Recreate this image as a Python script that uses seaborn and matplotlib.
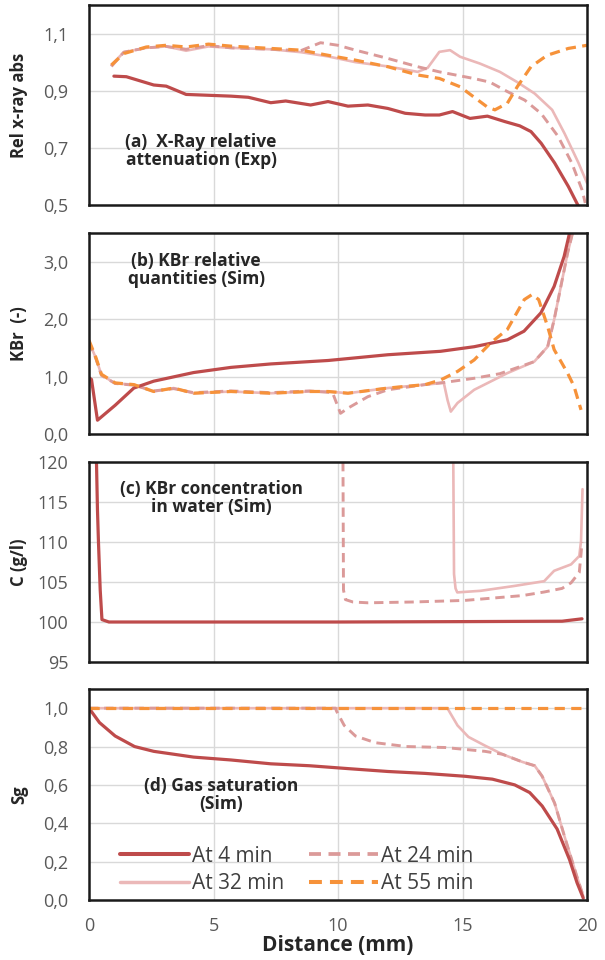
import numpy as np
import pandas as pd
import matplotlib
matplotlib.use("Agg")
import matplotlib.pyplot as plt
from matplotlib.lines import Line2D
import seaborn as sns

# ---------------- data ----------------
series_names = ["At 4 min", "At 24 min", "At 32 min", "At 55 min"]

# (a) X-ray relative attenuation (Exp)
a_x_4 = [1.0, 1.5, 2.6, 3.1, 3.9, 4.5, 5.7, 6.4, 7.3, 7.9, 8.9, 9.6, 10.4, 11.2, 12.0, 12.7, 13.5,
         14.07, 14.6, 15.3, 16.0, 16.7, 17.3, 17.75, 18.16, 18.7, 19.25, 19.66, 19.8]
a_y_4 = [0.951, 0.949, 0.920, 0.916, 0.887, 0.885, 0.881, 0.877, 0.858, 0.864, 0.850, 0.862, 0.846, 0.850,
         0.838, 0.821, 0.815, 0.815, 0.827, 0.803, 0.811, 0.792, 0.777, 0.757, 0.716, 0.647, 0.565, 0.495, 0.47]
a_x_24 = [0.9, 1.4, 2.3, 3.1, 3.9, 4.8, 5.7, 7.3, 8.5, 9.3, 10.0, 10.7, 12.0, 13.2, 14.07, 15.44, 16.1,
          16.8, 17.5, 18.16, 18.84, 19.39, 19.8, 19.93]
a_y_24 = [0.985, 1.035, 1.050, 1.055, 1.045, 1.058, 1.050, 1.045, 1.040, 1.068, 1.059, 1.042, 1.013, 0.984,
          0.966, 0.943, 0.930, 0.897, 0.867, 0.820, 0.740, 0.647, 0.553, 0.507]
a_x_32 = [0.9, 1.4, 2.3, 3.1, 3.9, 4.8, 5.7, 7.3, 8.5, 9.6, 10.7, 12.0, 13.2, 13.6, 14.07, 14.5, 14.9,
          15.7, 16.5, 17.2, 17.9, 18.6, 19.1, 19.66, 20.0]
a_y_32 = [0.990, 1.035, 1.050, 1.055, 1.040, 1.055, 1.050, 1.045, 1.035, 1.020, 1.000, 0.985, 0.966, 0.980,
          1.036, 1.042, 1.019, 0.995, 0.966, 0.930, 0.890, 0.833, 0.750, 0.647, 0.577]
a_x_55 = [0.9, 1.4, 2.3, 3.1, 3.9, 4.8, 5.7, 7.3, 8.5, 9.6, 10.7, 12.0, 13.2, 14.07, 14.9, 15.44, 15.98,
          16.3, 16.8, 17.2, 17.75, 18.4, 19.25, 20.0]
a_y_55 = [0.990, 1.030, 1.053, 1.059, 1.053, 1.063, 1.056, 1.048, 1.042, 1.024, 1.007, 0.984, 0.955, 0.943,
          0.914, 0.879, 0.844, 0.833, 0.856, 0.914, 0.984, 1.024, 1.048, 1.059]

# (b) KBr relative quantities (Sim)
b_x_4 = [0.0, 0.1, 0.34, 1.05, 1.8, 2.6, 4.2, 5.7, 7.3, 9.6, 12.0, 14.12, 15.47, 16.8, 17.47, 18.15, 18.68, 19.08, 19.3]
b_y_4 = [0.98, 0.95, 0.24, 0.50, 0.80, 0.92, 1.07, 1.16, 1.22, 1.28, 1.38, 1.44, 1.52, 1.64, 1.79, 2.11, 2.57, 3.09, 3.50]
b_x_24 = [0.0, 0.27, 0.5, 1.05, 1.8, 2.6, 3.4, 4.2, 5.7, 7.3, 8.85, 9.78, 10.1, 10.4, 11.2, 12.0, 13.5, 14.3,
          15.47, 16.5, 17.88, 18.42, 18.68, 18.95, 19.22, 19.42]
b_y_24 = [1.60, 1.32, 1.02, 0.88, 0.85, 0.75, 0.79, 0.72, 0.75, 0.72, 0.75, 0.72, 0.36, 0.45, 0.65, 0.77, 0.86, 0.90,
          0.97, 1.05, 1.26, 1.52, 1.99, 2.57, 3.15, 3.50]
b_x_32 = [0.0, 0.27, 0.5, 1.05, 1.8, 2.6, 3.4, 4.2, 5.7, 7.3, 8.85, 9.6, 10.4, 12.0, 13.5, 14.25, 14.4, 14.53,
          14.8, 15.47, 16.8, 17.88, 18.42, 18.68, 18.95, 19.22, 19.42]
b_y_32 = [1.60, 1.33, 1.03, 0.88, 0.86, 0.74, 0.80, 0.71, 0.74, 0.71, 0.74, 0.74, 0.71, 0.80, 0.86, 0.89, 0.59, 0.39,
          0.54, 0.77, 1.06, 1.26, 1.52, 1.99, 2.57, 3.15, 3.50]
b_x_55 = [0.0, 0.27, 0.5, 1.05, 1.8, 2.6, 3.4, 4.2, 5.7, 7.3, 8.85, 9.6, 10.4, 12.0, 13.5, 14.12, 14.8, 15.47,
          16.14, 16.8, 17.48, 17.8, 18.06, 18.42, 18.68, 19.22, 19.48, 19.76]
b_y_55 = [1.63, 1.34, 1.04, 0.89, 0.86, 0.74, 0.80, 0.71, 0.74, 0.71, 0.74, 0.74, 0.71, 0.80, 0.86, 0.94, 1.09, 1.29,
          1.59, 1.82, 2.34, 2.43, 2.34, 1.87, 1.47, 1.06, 0.83, 0.42]

# (c) KBr concentration in water (Sim)
c_x_4 = [0.30, 0.34, 0.38, 0.45, 0.52, 0.8, 5.0, 10.0, 15.0, 19.0, 19.8]
c_y_4 = [120.0, 114.0, 110.0, 104.0, 100.3, 100.0, 100.0, 100.0, 100.05, 100.1, 100.4]
c_x_24 = [10.2, 10.22, 10.3, 10.6, 11.2, 13.0, 15.1, 17.4, 18.28, 19.0, 19.36, 19.69, 19.76, 19.8]
c_y_24 = [120.0, 104.0, 102.8, 102.5, 102.4, 102.5, 102.7, 103.3, 103.75, 104.2, 104.9, 106.2, 108.5, 110.0]
c_x_32 = [14.63, 14.66, 14.72, 14.79, 15.73, 17.07, 18.28, 18.68, 19.36, 19.69, 19.76, 19.82]
c_y_32 = [120.0, 106.0, 104.2, 103.7, 103.9, 104.5, 105.1, 106.4, 107.2, 108.25, 110.1, 116.6]

# (d) Gas saturation (Sim)
d_x_4 = [0.0, 0.42, 1.05, 1.83, 2.6, 4.2, 5.7, 7.3, 8.85, 10.4, 12.0, 13.5, 15.1, 16.2, 17.1, 17.7, 18.2, 18.8,
         19.3, 19.6, 19.85]
d_y_4 = [1.0, 0.925, 0.855, 0.80, 0.775, 0.745, 0.73, 0.71, 0.70, 0.685, 0.67, 0.66, 0.645, 0.63, 0.60, 0.56,
         0.49, 0.37, 0.21, 0.09, 0.01]
d_x_24 = [0.0, 9.9, 9.94, 10.25, 10.7, 11.5, 12.75, 14.3, 15.1, 15.9, 16.6, 17.4, 17.9, 18.2, 18.7, 19.1, 19.6, 19.85]
d_y_24 = [1.0, 1.0, 0.985, 0.91, 0.855, 0.82, 0.80, 0.795, 0.785, 0.775, 0.76, 0.72, 0.70, 0.645, 0.505, 0.33,
          0.12, 0.02]
d_x_32 = [0.0, 14.4, 14.46, 14.8, 15.24, 15.9, 16.6, 17.4, 17.9, 18.2, 18.7, 19.1, 19.6, 19.85]
d_y_32 = [1.0, 1.0, 0.985, 0.91, 0.85, 0.805, 0.76, 0.72, 0.70, 0.645, 0.505, 0.33, 0.12, 0.02]
d_x_55 = [0.0, 20.0]
d_y_55 = [1.0, 1.0]

x_ticks = [0, 5, 10, 15, 20]
a_ticks = [0.5, 0.7, 0.9, 1.1]
a_ticklabels = ["0,5", "0,7", "0,9", "1,1"]
b_ticks = [0.0, 1.0, 2.0, 3.0]
b_ticklabels = ["0,0", "1,0", "2,0", "3,0"]
c_ticks = [95, 100, 105, 110, 115, 120]
c_ticklabels = ["95", "100", "105", "110", "115", "120"]
d_ticks = [0.0, 0.2, 0.4, 0.6, 0.8, 1.0]
d_ticklabels = ["0,0", "0,2", "0,4", "0,6", "0,8", "1,0"]

panel_titles = ["(a)  X-Ray relative\nattenuation (Exp)",
                "(b) KBr relative\nquantities (Sim)",
                "(c) KBr concentration\nin water (Sim)",
                "(d) Gas saturation\n(Sim)"]
y_labels = ["Rel x-ray abs", "KBr  (-)", "C (g/l)", "Sg"]
x_label = "Distance (mm)"

# ---------------- style ----------------
sns.set_theme(style="white")
plt.rcParams["font.family"] = ["Open Sans", "DejaVu Sans"]

colors = {"At 4 min": "#BE4B4B", "At 24 min": "#DB9A99", "At 32 min": "#EBB8B8", "At 55 min": "#F6923A"}
styles = {"At 4 min": "-", "At 24 min": (0, (3.2, 2.0)), "At 32 min": "-", "At 55 min": (0, (3.2, 2.0))}
widths = {"At 4 min": 2.3, "At 24 min": 2.1, "At 32 min": 1.9, "At 55 min": 2.3}
draw_order = ["At 32 min", "At 24 min", "At 4 min", "At 55 min"]

panels = [
    {"At 4 min": (a_x_4, a_y_4), "At 24 min": (a_x_24, a_y_24), "At 32 min": (a_x_32, a_y_32), "At 55 min": (a_x_55, a_y_55)},
    {"At 4 min": (b_x_4, b_y_4), "At 24 min": (b_x_24, b_y_24), "At 32 min": (b_x_32, b_y_32), "At 55 min": (b_x_55, b_y_55)},
    {"At 4 min": (c_x_4, c_y_4), "At 24 min": (c_x_24, c_y_24), "At 32 min": (c_x_32, c_y_32)},
    {"At 4 min": (d_x_4, d_y_4), "At 24 min": (d_x_24, d_y_24), "At 32 min": (d_x_32, d_y_32), "At 55 min": (d_x_55, d_y_55)},
]
ylims = [(0.5, 1.2), (0.0, 3.5), (95, 120), (0.0, 1.1)]
yticks = [(a_ticks, a_ticklabels), (b_ticks, b_ticklabels), (c_ticks, c_ticklabels), (d_ticks, d_ticklabels)]
title_pos = [(4.5, 0.69), (4.3, 2.85), (4.9, 115.5), (5.3, 0.55)]

fig = plt.figure(figsize=(6.05, 9.6), dpi=100)
W, H = 605.0, 960.0
boxes = [(5, 205), (233, 434), (462, 662), (689, 900)]
left, right = 89, 587

tick_color = "#595959"
for i, (top, bot) in enumerate(boxes):
    ax = fig.add_axes([left / W, 1 - bot / H, (right - left) / W, (bot - top) / H])
    for name in draw_order:
        if name not in panels[i]:
            continue
        xs, ys = panels[i][name]
        df = pd.DataFrame({"x": xs, "y": ys})
        sns.lineplot(data=df, x="x", y="y", ax=ax, color=colors[name], linestyle=styles[name],
                     linewidth=widths[name], sort=False, estimator=None, legend=False)
    ax.set_xlim(0, 20)
    ax.set_ylim(*ylims[i])
    ax.set_xticks(x_ticks)
    ax.set_yticks(yticks[i][0])
    ax.set_yticklabels(yticks[i][1], color=tick_color, fontsize=13)
    ax.grid(True, color="#D9D9D9", linewidth=1.0)
    ax.set_axisbelow(True)
    for sp in ax.spines.values():
        sp.set_visible(True)
        sp.set_color("#1a1a1a")
        sp.set_linewidth(1.8)
    ax.tick_params(axis="y", length=0, pad=15)
    ax.tick_params(axis="x", length=0, pad=12)
    ax.set_ylabel(y_labels[i], fontsize=12, fontweight="bold", color="#262626")
    ax.yaxis.set_label_coords(-0.122, 0.5)
    ax.text(title_pos[i][0], title_pos[i][1], panel_titles[i], ha="center", va="center",
            fontsize=12.5, fontweight="bold", color="#262626", linespacing=1.0)
    if i < 3:
        ax.set_xticklabels([])
        ax.set_xlabel("")
    else:
        ax.set_xticklabels([str(t) for t in x_ticks], color=tick_color, fontsize=13)
        ax.set_xlabel(x_label, fontsize=15, fontweight="bold", color="#262626", labelpad=0)
        handles = [Line2D([], [], color=colors[n], linestyle=styles[n],
                          linewidth=widths[n] + 0.6) for n in ["At 4 min", "At 32 min", "At 24 min", "At 55 min"]]
        labels = ["At 4 min", "At 32 min", "At 24 min", "At 55 min"]
        leg = ax.legend(handles, labels, ncol=2, loc="lower left", bbox_to_anchor=(0.025, -0.06),
                        frameon=False, fontsize=15, handlelength=3.3, handletextpad=0.15,
                        columnspacing=1.2, labelspacing=0.3)
        for t in leg.get_texts():
            t.set_color("#404040")

fig.savefig("out.png", dpi=100)
